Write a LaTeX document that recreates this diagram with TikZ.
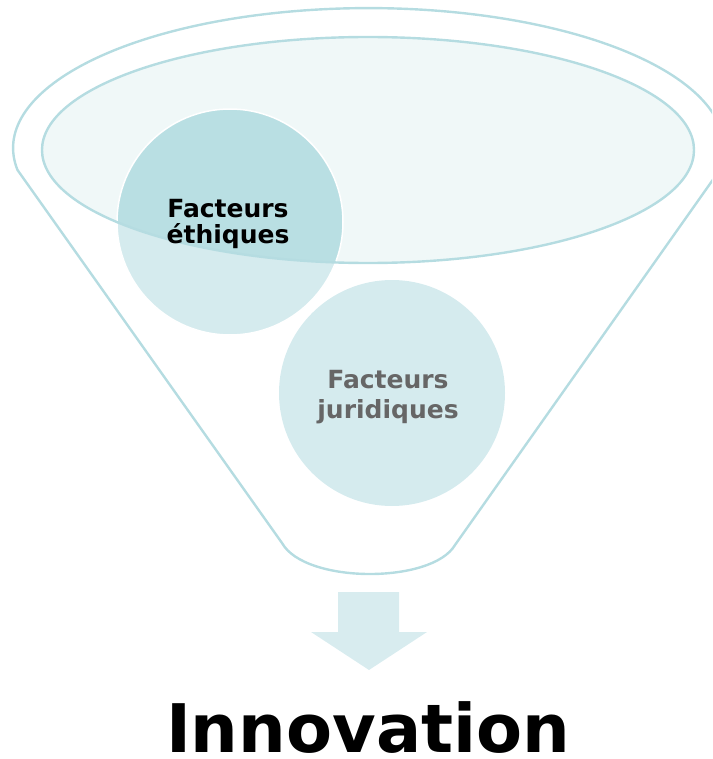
\documentclass[tikz,border=0pt]{standalone}
\usepackage{fontspec}
\setmainfont{DejaVu Sans}
\definecolor{rim}{HTML}{B5DCE1}
\definecolor{ellfill}{HTML}{F0F8F8}
\definecolor{circfill}{HTML}{D5EBEE}
\definecolor{overlap}{HTML}{B9DFE3}
\definecolor{arrowfill}{HTML}{D8ECEF}
\definecolor{greytext}{HTML}{666666}
\tikzset{
  funnelline/.style={draw=rim, line width=2.4pt, line join=round},
  circlabel/.style={align=center, inner sep=0pt},
}
\begin{document}
\begin{tikzpicture}[x=1pt,y=-1pt]
\useasboundingbox (0,0) rectangle (712,759);
\clip (0,0) rectangle (712,759);
% funnel outline
\draw[funnelline] (282,543) -- (17.5,170)
  arc[start angle=171, end angle=369, x radius=355.5, y radius=140]
  -- (455,545) .. controls (432,584) and (305,584) .. cycle;
% inner ellipse fill
\fill[ellfill] (368,150) ellipse[x radius=326, y radius=113];
% circle 1
\fill[circfill] (230,222) circle[radius=113];
\begin{scope}
  \clip (368,150) ellipse[x radius=326, y radius=113];
  \fill[overlap] (230,222) circle[radius=113];
\end{scope}
\draw[white, line width=1.5pt] (230,222) circle[radius=113];
% inner ellipse outline
\draw[rim, line width=2.4pt] (368,150) ellipse[x radius=326, y radius=113];
\node[circlabel, text=black, font=\bfseries\fontsize{25}{25.5}\selectfont] (ethiques) at (228,224) {Facteurs\\éthiques};
% circle 2
\fill[circfill] (392,393) circle[radius=113];
\node[circlabel, text=greytext, font=\bfseries\fontsize{25}{30}\selectfont] (juridiques) at (388,397) {Facteurs\\juridiques};
% arrow
\fill[arrowfill] (338,592) -- (399,592) -- (399,632) -- (427,632) -- (369,670) -- (311,632) -- (338,632) -- cycle;
% title
\node[anchor=base, inner sep=0pt, text depth=0pt, font=\bfseries\fontsize{67}{70}\selectfont] (innovation) at (368,752) {Innovation};
\end{tikzpicture}
\end{document}
